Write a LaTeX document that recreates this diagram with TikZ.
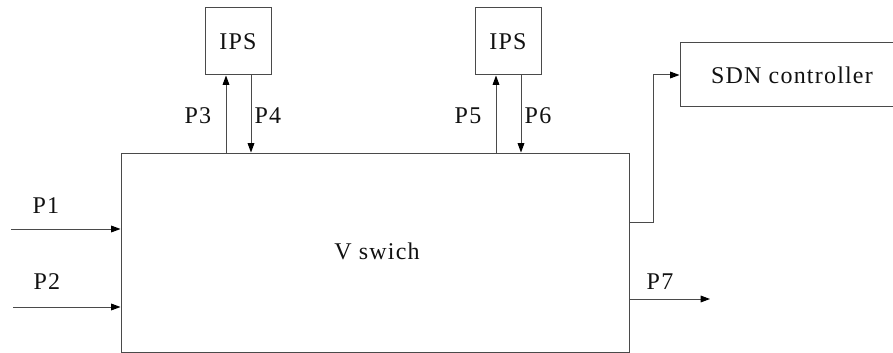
\documentclass[tikz,border=0pt]{standalone}
\usepackage{fontspec}
\setmainfont[LetterSpace=5]{Liberation Serif}
\usetikzlibrary{arrows.meta, positioning, calc}
\definecolor{lngray}{HTML}{4A4A4A}
\definecolor{txtdk}{HTML}{111111}

\begin{document}
\begin{tikzpicture}[x=0.75pt, y=-0.75pt,
  box/.style={draw=lngray, line width=0.75pt, inner sep=0pt},
  flow/.style={draw=lngray, line width=0.75pt, -{Triangle[length=7pt, width=5pt, color=black]}},
  lbl/.style={text=txtdk, font=\fontsize{18}{21}\selectfont}]

% Frame
\useasboundingbox (0,0) rectangle (893,353);
\clip (0,0) rectangle (893,353);

% Switch
\node[box, lbl, minimum width=381pt, minimum height=149.25pt] (vsw) at (375,252.5) {};
\node[lbl] (vswtxt) at (377,251) {V swich};

% --- IPS boxes ---
\node[box, lbl, minimum width=49.5pt, minimum height=50.25pt] (ips1) at (238,41.5) {IPS};
\node[box, lbl, minimum width=49.5pt, minimum height=50.25pt] (ips2) at (508,41.5) {IPS};

% SDN controller
\node[box, lbl, minimum width=168pt, minimum height=48pt] (sdn) at (792,75) {SDN controller};

% Inputs
\coordinate (p1in) at (11,229);
\coordinate (p2in) at (13,307);
\draw[flow] (p1in) -- (p1in -| vsw.west);
\draw[flow] (p2in) -- (p2in -| vsw.west);
\node[lbl] (p1) at (46,206) {P1};
\node[lbl] (p2) at (47,282) {P2};

% To and from IPS
\coordinate (ips1up) at ($(ips1.south)+(-12,0)$);
\coordinate (ips1dn) at ($(ips1.south)+(13,0)$);
\coordinate (ips2up) at ($(ips2.south)+(-12,0)$);
\coordinate (ips2dn) at ($(ips2.south)+(13,0)$);
\draw[flow] (ips1up |- vsw.north) -- (ips1up);
\draw[flow] (ips1dn) -- (ips1dn |- vsw.north);
\draw[flow] (ips2up |- vsw.north) -- (ips2up);
\draw[flow] (ips2dn) -- (ips2dn |- vsw.north);
\node[lbl] (p3) at (198,116) {P3};
\node[lbl] (p4) at (268,116) {P4};
\node[lbl] (p5) at (468,116) {P5};
\node[lbl] (p6) at (538,116) {P6};

% Outputs
\coordinate (p7out) at (710,299);
\draw[flow] (p7out -| vsw.east) -- (p7out);
\node[lbl] (p7) at (660,282) {P7};
\draw[flow] ($(vsw.east)+(0,-30.5)$) -- ++(24,0) |- (sdn.west);

\end{tikzpicture}
\end{document}
